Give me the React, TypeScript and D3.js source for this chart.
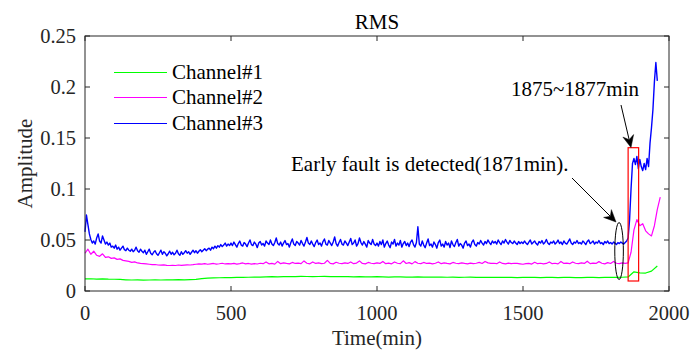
import React from "react";
import * as d3 from "d3";

// RMS amplitude of three vibration channels, values in units of 1e-4.
// Channel#3 sampled every 5 min, Channel#2 every 10 min, Channel#1 every 20 min.
const ch3Step = 5;
const ch3Rms = [
  580, 745, 650, 560, 505, 470, 490, 460, 520, 560, 490, 470, 540, 500, 460, 480,
  450, 470, 430, 440,
  420, 450, 410, 430, 400, 420, 440, 405, 395, 420,
  400, 390, 410, 385, 400, 430, 395, 380, 410, 390,
  375, 400, 360, 385, 410, 370, 355, 380, 395, 365,
  350, 375, 400, 360, 385, 370, 345, 365, 390, 360,
  380, 355, 370, 400, 365, 350, 385, 360, 375, 395,
  370, 385, 360, 380, 400, 375, 395, 370, 390, 405,
  385, 400, 415, 395, 410, 420, 400, 430, 415, 440,
  420, 445, 430, 455, 435, 450, 470, 440, 460, 445,
  // 500 - 995
  470, 445, 480, 455, 430, 465, 490, 450, 440, 475, 460, 435, 470, 500, 455, 445, 480, 460, 425, 470,
  485, 450, 465, 440, 490, 470, 455, 500, 460, 445, 475, 520, 465, 450, 480, 440, 470, 495, 455, 465,
  430, 475, 510, 460, 445, 485, 470, 450, 495, 465, 440, 480, 525, 470, 455, 490, 460, 435, 475, 500,
  455, 470, 440, 485, 510, 460, 450, 495, 470, 445, 480, 530, 465, 440, 475, 505, 460, 450, 490, 470,
  445, 480, 515, 455, 470, 500, 440, 465, 520, 475, 450, 485, 460, 430, 495, 470, 455, 505, 460, 445,
  // 1000 - 1495
  470, 440, 485, 455, 500, 430, 465, 490, 450, 425, 480, 460, 505, 440, 470, 450, 495, 430, 465, 485,
  445, 470, 435, 480, 500, 455, 430, 475, 630, 460, 440, 490, 450, 425, 470, 510, 445, 460, 430, 480,
  455, 420, 475, 500, 440, 460, 430, 485, 450, 470, 425, 490, 455, 435, 475, 505, 440, 465, 450, 420,
  470, 490, 445, 460, 430, 480, 500, 455, 440, 475, 460, 495, 470, 450, 485, 465, 500, 475, 455, 490,
  470, 485, 460, 500, 475, 455, 490, 470, 505, 480, 460, 495, 475, 465, 490, 470, 455, 485, 465, 480,
  // 1500 - 1855
  465, 490, 470, 455, 480, 500, 460, 475, 490, 465, 450, 485, 470, 495, 460, 475, 505, 470, 455, 480,
  470, 490, 460, 475, 500, 465, 480, 455, 490, 470, 460, 485, 510, 470, 455, 480, 470, 495, 465, 475,
  460, 490, 475, 455, 485, 500, 465, 475, 490, 460, 480, 470, 495, 465, 475, 455, 485, 470, 490, 465,
  475, 460, 480, 470, 455, 475, 465, 480, 470, 460, 475, 490,
  // 1860 - 1960
  520, 700, 1000, 1250, 1300, 1240, 1320, 1200, 1290, 1220, 1180, 1250, 1190, 1300, 1220,
  1450, 1600, 1780, 2050, 2240, 2060,
];

const ch2Step = 10;
const ch2Rms = [
  370, 410, 360, 390, 350, 340, 365, 330, 335, 320,
  325, 310, 315, 300, 295, 290, 280, 285, 275, 270,
  268, 265, 262, 258, 260, 255, 253, 256, 252, 250,
  252, 250, 255, 251, 254, 257, 255, 258, 262, 265,
  264, 268, 262, 266, 270, 263, 267, 272, 265, 268,
  266, 270, 264, 268, 275, 266, 270, 263, 269, 265,
  272, 268, 285, 266, 270, 264, 290, 268, 275, 270,
  266, 280, 270, 274, 268, 295, 272, 266, 285, 270,
  276, 268, 272, 300, 270, 266, 282, 272, 268, 276,
  270, 285, 268, 274, 295, 270, 266, 280, 272, 268,
  276, 270, 290, 268, 274, 266, 285, 272, 268, 296,
  270, 278, 266, 288, 272, 268, 280, 270, 274, 266,
  272, 285, 268, 276, 270, 266, 280, 272, 268, 275,
  270, 266, 274, 268, 272, 280, 270, 290, 276, 270,
  272, 268, 285, 270, 266, 274, 268, 272, 270, 266,
  262, 268, 270, 264, 282, 268, 272, 266, 270, 285,
  268, 272, 266, 290, 270, 274, 268, 285, 272, 268,
  276, 270, 292, 268, 274, 270, 288, 272, 266, 278,
  270, 290, 272, 268, 276, 270,
  275, 380, 600, 700, 640, 660, 590, 560, 540, 640, 800, 920,
];

const ch1Step = 20;
const ch1Rms = [
  118, 120, 117, 119, 116, 115, 113, 110, 108, 109, 107, 108, 109, 108, 110, 109, 111, 110, 112, 114,
  122, 126, 128, 130, 131, 132, 134, 133, 135, 136, 137, 138, 140, 139, 141, 142, 140, 143, 142, 141,
  142, 143, 141, 142, 140, 141, 139, 140, 138, 139, 140, 138, 137, 139, 138, 136, 137, 138, 136, 137,
  136, 137, 135, 136, 134, 135, 136, 134, 135, 133, 134, 135, 133, 134, 132, 133, 134, 133, 132, 134,
  133, 132, 134, 133, 131, 132, 133, 134, 132, 133, 134, 133, 135, 138,
  188, 178, 176, 195, 245,
];

const xTicks = [0, 500, 1000, 1500, 2000];
const yTicks = [0, 0.05, 0.1, 0.15, 0.2, 0.25];

const seriesList = [
  { name: "Channel#1", color: "#00ff00", step: ch1Step, values: ch1Rms },
  { name: "Channel#2", color: "#ff00ff", step: ch2Step, values: ch2Rms },
  { name: "Channel#3", color: "#0000ff", step: ch3Step, values: ch3Rms },
];

const W = 691;
const H = 350;
const M = { left: 85, right: 669, top: 36, bottom: 291 };
const FONT = "'Liberation Serif', 'Times New Roman', serif";
const AXIS = "#262626";

export default function App() {
  const x = d3.scaleLinear().domain([0, 2000]).range([M.left, M.right]);
  const y = d3.scaleLinear().domain([0, 0.25]).range([M.bottom, M.top]);
  const line = d3
    .line<[number, number]>()
    .x((d) => x(d[0]))
    .y((d) => y(d[1]));

  const paths = seriesList.map((s) => ({
    ...s,
    d: line(s.values.map((v, i) => [i * s.step, v * 1e-4]) as [number, number][]) || "",
  }));

  const tickLen = 5;
  const txt = { fontFamily: FONT };

  // arrowhead with a notched back, pointing from (x1,y1) to (x2,y2)
  const arrow = (x1: number, y1: number, x2: number, y2: number) => {
    const ang = Math.atan2(y2 - y1, x2 - x1);
    const len = 12;
    const half = 5.5;
    const back = 8;
    const ux = Math.cos(ang);
    const uy = Math.sin(ang);
    const px = -uy;
    const py = ux;
    const bx = x2 - ux * len;
    const by = y2 - uy * len;
    const nx = x2 - ux * back;
    const ny = y2 - uy * back;
    const head = `M${x2},${y2} L${bx + px * half},${by + py * half} L${nx},${ny} L${bx - px * half},${by - py * half} Z`;
    return (
      <g>
        <line x1={x1} y1={y1} x2={nx} y2={ny} stroke="#000" strokeWidth={1} />
        <path d={head} fill="#000" stroke="#000" strokeWidth={0.5} />
      </g>
    );
  };

  return (
    <svg
      width={W}
      height={H}
      style={{ position: "absolute", left: 0, top: 0, background: "#fff" }}
      fontFamily={FONT}
    >
      <rect x={0} y={0} width={W} height={H} fill="#fff" />

      {/* data lines */}
      {paths.map((p) => (
        <path
          key={p.name}
          d={p.d}
          fill="none"
          stroke={p.color}
          strokeWidth={p.name === "Channel#3" ? 1.4 : 1.2}
          strokeLinejoin="round"
        />
      ))}

      {/* axes box */}
      <rect
        x={M.left}
        y={M.top}
        width={M.right - M.left}
        height={M.bottom - M.top}
        fill="none"
        stroke={AXIS}
        strokeWidth={1}
      />

      {/* x ticks */}
      {xTicks.map((t) => (
        <g key={"x" + t}>
          <line x1={x(t)} x2={x(t)} y1={M.bottom} y2={M.bottom - tickLen} stroke={AXIS} />
          <line x1={x(t)} x2={x(t)} y1={M.top} y2={M.top + tickLen} stroke={AXIS} />
          <text x={x(t)} y={M.bottom + 29} textAnchor="middle" fontSize={20.5} fill={AXIS} style={txt}>
            {t}
          </text>
        </g>
      ))}

      {/* y ticks */}
      {yTicks.map((t) => (
        <g key={"y" + t}>
          <line x1={M.left} x2={M.left + tickLen} y1={y(t)} y2={y(t)} stroke={AXIS} />
          <line x1={M.right} x2={M.right - tickLen} y1={y(t)} y2={y(t)} stroke={AXIS} />
          <text x={M.left - 9} y={y(t)} dy="0.33em" textAnchor="end" fontSize={20.5} fill={AXIS} style={txt}>
            {d3.format("")(+t.toFixed(2))}
          </text>
        </g>
      ))}

      {/* title and axis labels */}
      <text x={(M.left + M.right) / 2} y={29} textAnchor="middle" fontSize={21} fill="#000" style={txt}>
        RMS
      </text>
      <text x={(M.left + M.right) / 2} y={345} textAnchor="middle" fontSize={21} fill={AXIS} style={txt}>
        Time(min)
      </text>
      <text
        transform={`translate(32,${(M.top + M.bottom) / 2}) rotate(-90)`}
        textAnchor="middle"
        fontSize={21}
        fill={AXIS}
        style={txt}
      >
        Amplitude
      </text>

      {/* legend */}
      {seriesList.map((s, i) => {
        const ly = [72.5, 97.5, 123.5][i];
        return (
          <g key={"lg" + s.name}>
            <line x1={114} x2={167} y1={ly} y2={ly} stroke={s.color} strokeWidth={1.2} />
            <text x={172} y={ly} dy="0.33em" fontSize={21} fill="#000" style={txt}>
              {s.name}
            </text>
          </g>
        );
      })}

      {/* fault annotations */}
      <ellipse
        cx={x(1829)}
        cy={y(0.0392)}
        rx={4.3}
        ry={28.5}
        fill="none"
        stroke="#000"
        strokeWidth={1}
      />
      <rect
        x={x(1860)}
        y={y(0.1405)}
        width={x(1896) - x(1860)}
        height={y(0.0098) - y(0.1405)}
        fill="none"
        stroke="#ff0000"
        strokeWidth={1.2}
      />
      {arrow(572, 178, 616, 222)}
      {arrow(621, 105, 631, 147.5)}
      <text x={291} y={171} fontSize={21} fill="#000" style={txt}>
        Early fault is detected(1871min).
      </text>
      <text x={511} y={96} fontSize={21} fill="#000" style={txt}>
        1875~1877min
      </text>
    </svg>
  );
}
